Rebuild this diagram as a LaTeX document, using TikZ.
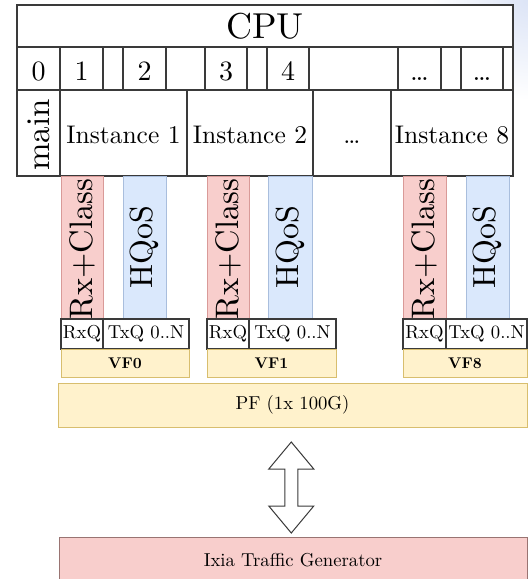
\documentclass[tikz,border=0pt]{standalone}
\usepackage{fontspec}
\setmainfont{lmroman10-regular.otf}[BoldFont=lmroman10-bold.otf]
\usetikzlibrary{calc}
\definecolor{linegrey}{HTML}{3A3A3A}
\definecolor{pinkfill}{HTML}{F8CECC}
\definecolor{pinkline}{HTML}{D99A98}
\definecolor{bluefill}{HTML}{DAE8FC}
\definecolor{blueline}{HTML}{A9BEDD}
\definecolor{yelfill}{HTML}{FFF2CC}
\definecolor{yelline}{HTML}{D8BE6E}
\definecolor{haze}{HTML}{DCE4F6}
\newcommand\fs[1]{\fontsize{#1}{#1}\selectfont}
% lower a label inside its cell without changing the cell's centring
\newcommand\dn[2]{\raisebox{-#1pt}[\height][\depth]{#2}}
% \cellnode{style}{x1}{y1}{x2}{y2}{name}{text}
\newcommand\cellnode[7]{\node[#1, anchor=north west,
  minimum width={(#4)-(#2)}, minimum height={(#5)-(#3)}] (#6) at (#2,#3) {#7};}
\begin{document}
\begin{tikzpicture}[x=1pt,y=-1pt,
  frame/.style={draw=linegrey, line width=1.2pt, fill=white, inner sep=0pt, outer sep=0pt},
  rxcol/.style={draw=pinkline, line width=0.9pt, fill=pinkfill, inner sep=0pt, outer sep=0pt},
  hqcol/.style={draw=blueline, line width=0.9pt, fill=bluefill, inner sep=0pt, outer sep=0pt},
  vfbox/.style={draw=yelline, line width=0.9pt, fill=yelfill, inner sep=0pt, outer sep=0pt},
  genbox/.style={draw=pinkline!60!linegrey, line width=1pt, fill=pinkfill, inner sep=0pt, outer sep=0pt},
  vtext/.style={rotate=90, inner sep=0pt},
  blockarrow/.style={draw=linegrey, line width=1pt, fill=white, line join=miter}]
\useasboundingbox (0,0) rectangle (528,579);

% soft tint in the upper right corner
\begin{scope}
  \clip (430,0) rectangle (528,130);
  \shade[inner color=haze, outer color=white] (528,0) circle (100);
\end{scope}

% CPU header
\cellnode{frame}{17}{5}{513}{47}{cpu}{\fs{36}CPU}

% core row
\cellnode{frame}{17}{47}{60}{90}{c0}{\fs{28}\dn{2.5}{0}}
\cellnode{frame}{60}{47}{103}{90}{c1}{\fs{28}\dn{2.5}{1}}
\cellnode{frame}{103}{47}{123}{90}{g1}{}
\cellnode{frame}{123}{47}{166}{90}{c2}{\fs{28}\dn{2.5}{2}}
\cellnode{frame}{166}{47}{205}{90}{g2}{}
\cellnode{frame}{205}{47}{247}{90}{c3}{\fs{28}\dn{2.5}{3}}
\cellnode{frame}{247}{47}{267}{90}{g3}{}
\cellnode{frame}{267}{47}{309}{90}{c4}{\fs{28}\dn{2.5}{4}}
\cellnode{frame}{309}{47}{398}{90}{g4}{}
\cellnode{frame}{398}{47}{441}{90}{c5}{\fs{28}\dn{2.5}{\vphantom{0}\dots}}
\cellnode{frame}{441}{47}{461}{90}{g5}{}
\cellnode{frame}{461}{47}{503}{90}{c6}{\fs{28}\dn{2.5}{\vphantom{0}\dots}}
\cellnode{frame}{503}{47}{513}{90}{g6}{}

% instance row
\cellnode{frame}{17}{90}{60}{176}{main}{}
\node[vtext] (maintxt) at ($(main.center)+(0,2)$) {\fs{33}main};
\cellnode{frame}{60}{90}{187}{176}{inst1}{\fs{25.5}\dn{2}{Instance 1}}
\cellnode{frame}{187}{90}{313}{176}{inst2}{\fs{25.5}\dn{2}{Instance 2}}
\cellnode{frame}{313}{90}{391}{176}{instdots}{\fs{25.5}\dn{2}{\vphantom{I}\dots}}
\cellnode{frame}{391}{90}{513}{176}{inst8}{\fs{25.5}\dn{2}{Instance 8}}

% per-instance worker columns
\cellnode{rxcol}{61}{176}{103}{319}{rx0}{}
\cellnode{hqcol}{123}{176}{166}{319}{hq0}{}
\cellnode{rxcol}{207}{176}{249}{319}{rx1}{}
\cellnode{hqcol}{268}{176}{312}{319}{hq1}{}
\cellnode{rxcol}{403}{176}{446}{319}{rx8}{}
\cellnode{hqcol}{466}{176}{509}{319}{hq8}{}
\foreach \c in {rx0,rx1,rx8}{\node[vtext] (\c txt) at ($(\c.center)+(0,1.5)$) {\fs{32.5}Rx+Class};}
\foreach \c in {hq0,hq1,hq8}{\node[vtext] (\c txt) at (\c.center) {\fs{32}HQoS};}

% queues
\cellnode{frame}{61}{319}{103}{349}{rxq0}{\fs{18.7}RxQ}
\cellnode{frame}{103}{319}{189}{349}{txq0}{\fs{18.7}TxQ 0..N}
\cellnode{frame}{207}{319}{249}{349}{rxq1}{\fs{18.7}RxQ}
\cellnode{frame}{249}{319}{336}{349}{txq1}{\fs{18.7}TxQ 0..N}
\cellnode{frame}{403}{319}{446}{349}{rxq8}{\fs{18.7}RxQ}
\cellnode{frame}{446}{319}{527}{349}{txq8}{\fs{18.7}TxQ 0..N}

% virtual functions
\cellnode{vfbox}{61}{349}{189}{377}{vf0}{\fs{15.5}\bfseries VF0}
\cellnode{vfbox}{207}{349}{336}{377}{vf1}{\fs{15.5}\bfseries VF1}
\cellnode{vfbox}{403}{349}{527}{377}{vf8}{\fs{15.5}\bfseries VF8}

% physical function and generator
\cellnode{vfbox}{58}{383}{527}{427}{pf}{\fs{18.7}PF (1x 100G)}
\cellnode{genbox}{59}{537}{527}{583}{ixia}{\fs{18.7}Ixia Traffic Generator}

% bidirectional link between PF and the generator
\coordinate (am) at ($(pf.south)!0.55!(ixia.north)+(-1.5,0)$);
\draw[blockarrow] (am) ++(0,-45.5) -- ++(22.5,27) -- ++(-16,0) -- ++(0,37)
  -- ++(16,0) -- ++(-22.5,27) -- ++(-22.5,-27) -- ++(16,0) -- ++(0,-37)
  -- ++(-16,0) -- cycle;
\end{tikzpicture}
\end{document}
